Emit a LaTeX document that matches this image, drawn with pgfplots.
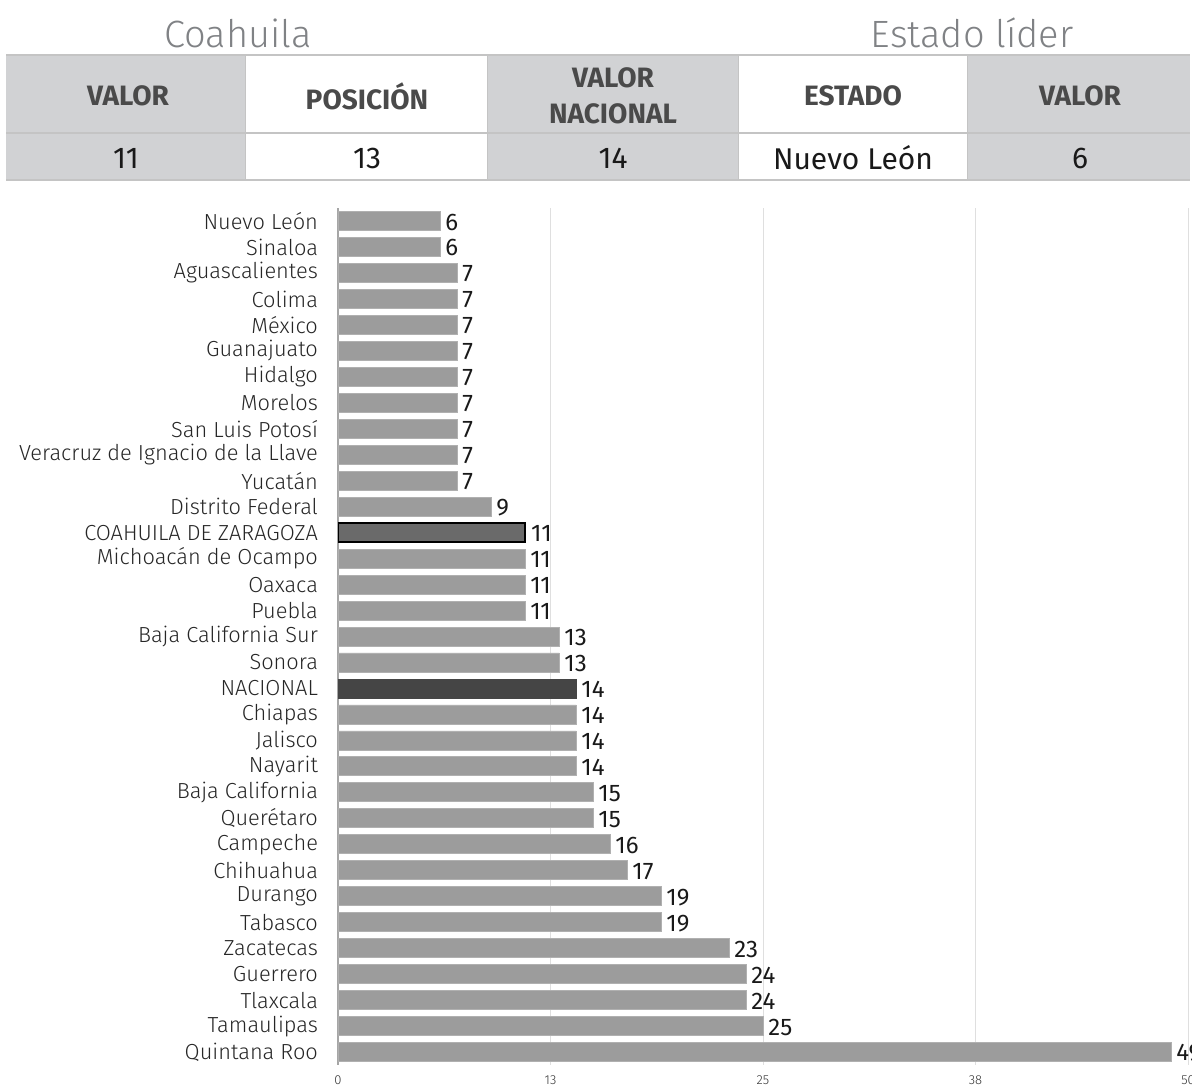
\documentclass[border=0pt]{standalone}
\usepackage{pgfplots}
\pgfplotsset{compat=1.18}
\usepackage{fontspec}
\setmainfont{Fira Sans}
\newfontfamily\lightfont{Fira Sans Light}
\definecolor{cellgray}{HTML}{D1D2D4}
\definecolor{linegray}{HTML}{C4C4C4}
\definecolor{titlegray}{HTML}{808285}
\definecolor{headgray}{HTML}{4A4A4A}
\definecolor{barnorm}{HTML}{9C9C9C}
\definecolor{barcoah}{HTML}{6A6A6A}
\definecolor{barnac}{HTML}{454545}
\begin{document}
\begin{tikzpicture}
\useasboundingbox (0,0) rectangle (596pt,-544.5pt);
\begin{scope}[x=0.5pt,y=-0.5pt]
  \fill[cellgray] (6,55) rectangle (245,180);
  \fill[cellgray] (487,55) rectangle (738,180);
  \fill[cellgray] (967,55) rectangle (1190,180);
  \draw[linegray,line width=0.6pt] (6,55) -- (1190,55);
  \draw[linegray,line width=0.6pt] (6,133) -- (1190,133);
  \draw[linegray,line width=0.6pt] (6,180) -- (1190,180);
  \foreach \xx in {245,487,738,967} \draw[linegray,line width=0.5pt] (\xx,55) -- (\xx,180);
  \node[titlegray,font=\lightfont\fontsize{19}{22}\selectfont] at (238,33) {Coahuila};
  \node[titlegray,font=\lightfont\fontsize{19}{22}\selectfont] at (972,33) {Estado líder};
  \begin{scope}[every node/.style={headgray,font=\bfseries\fontsize{14}{18}\selectfont,align=center}]
    \node at (128,96) {VALOR};
    \node at (367,96) {POSICIÓN};
    \node at (613,96) {VALOR\\NACIONAL};
    \node at (853,96) {ESTADO};
    \node at (1080,96) {VALOR};
  \end{scope}
  \begin{scope}[every node/.style={black!90,font=\fontsize{15}{18}\selectfont}]
    \node at (126,158) {11};
    \node at (367,158) {13};
    \node at (613,158) {14};
    \node at (853,158) {Nuevo León};
    \node at (1080,158) {6};
  \end{scope}
\end{scope}
\begin{axis}[
  at={(169pt,-104pt)}, anchor=north west,
  scale only axis, width=425pt, height=428.5pt,
  xbar, bar width=9.5pt, bar shift=0pt,
  xmin=0, xmax=50, ymin=-0.5, ymax=32.5, y dir=reverse,
  axis y line*=left, axis x line*=bottom,
  x axis line style={draw=none},
  y axis line style={draw=gray!70, line width=0.6pt},
  xtick={0,12.5,25,37.5,50}, xticklabels={0,13,25,38,50},
  xmajorgrids, major grid style={gray!25, line width=0.5pt},
  major tick length=0pt,
  xticklabel style={font=\lightfont\fontsize{6.5}{7}\selectfont, text=black!80, yshift=-2pt},
  ytick={0,...,32},
  yticklabels={Nuevo León,Sinaloa,Aguascalientes,Colima,México,Guanajuato,Hidalgo,Morelos,San Luis Potosí,Veracruz de Ignacio de la Llave,Yucatán,Distrito Federal,COAHUILA DE ZARAGOZA,Michoacán de Ocampo,Oaxaca,Puebla,Baja California Sur,Sonora,NACIONAL,Chiapas,Jalisco,Nayarit,Baja California,Querétaro,Campeche,Chihuahua,Durango,Tabasco,Zacatecas,Guerrero,Tlaxcala,Tamaulipas,Quintana Roo},
  yticklabel style={font=\lightfont\fontsize{10.9}{12}\selectfont, text=black!85, xshift=-6.5pt},
  /pgf/number format/assume math mode=true,
  nodes near coords,
  every node near coord/.append style={font=\fontsize{12}{14}\selectfont, text=black!90, anchor=west, inner sep=2.5pt, yshift=-0.5pt},
]
\addplot[fill=barnorm, draw=barnorm!80] coordinates {
(6,0) (6,1) (7,2) (7,3) (7,4) (7,5) (7,6) (7,7) (7,8) (7,9) (7,10) (9,11)
(11,13) (11,14) (11,15) (13,16) (13,17)
(14,19) (14,20) (14,21) (15,22) (15,23) (16,24) (17,25) (19,26) (19,27)
(23,28) (24,29) (24,30) (25,31) (49,32)};
\addplot[fill=barcoah, draw=black, line width=1.2pt] coordinates {(11,12)};
\addplot[fill=barnac, draw=barnac] coordinates {(14,18)};
\end{axis}
\end{tikzpicture}
\end{document}
